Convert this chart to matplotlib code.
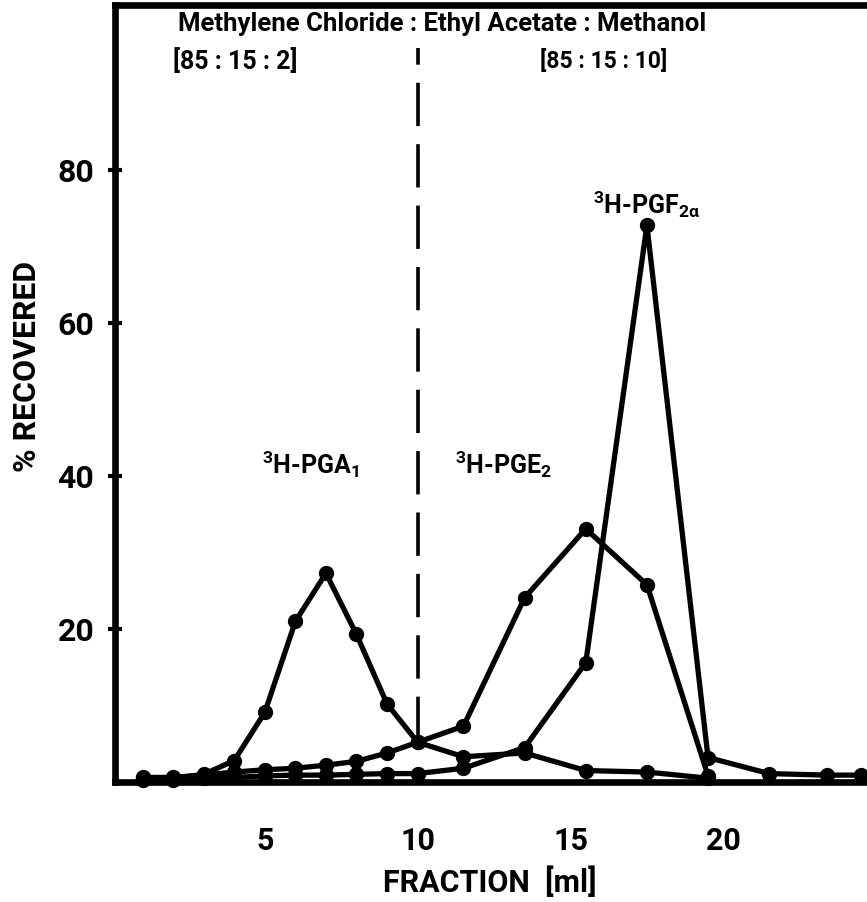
import matplotlib
matplotlib.use('Agg')
import matplotlib.pyplot as plt

FONT = ['Roboto', 'DejaVu Sans']
plt.rcParams['font.family'] = FONT
plt.rcParams['font.weight'] = 'bold'
plt.rcParams['axes.labelweight'] = 'bold'
plt.rcParams['mathtext.fontset'] = 'custom'
plt.rcParams['mathtext.rm'] = 'Roboto:bold'
plt.rcParams['mathtext.bf'] = 'Roboto:bold'
plt.rcParams['mathtext.default'] = 'rm'

# fraction (ml) vs % recovered
x_pga = [1, 2, 3, 4, 5, 6, 7, 8, 9, 10, 11.5, 13.5, 15.5, 17.5, 19.5]
y_pga = [0.5, 0.5, 1.0, 2.8, 9.1, 21.0, 27.3, 19.3, 10.2, 5.2, 3.3, 3.8, 1.5, 1.3, 0.5]

x_pge = [1, 2, 3, 4, 5, 6, 7, 8, 9, 10, 11.5, 13.5, 15.5, 17.5, 19.5]
y_pge = [0.6, 0.6, 0.9, 1.3, 1.6, 1.8, 2.2, 2.7, 3.8, 5.2, 7.3, 24.1, 33.1, 25.8, 0.8]

x_pgf = [1, 2, 3, 4, 5, 6, 7, 8, 9, 10, 11.5, 13.5, 15.5, 17.5, 19.5, 21.5, 23.4, 24.5]
y_pgf = [0.3, 0.3, 0.5, 0.6, 0.8, 0.9, 0.9, 1.0, 1.1, 1.1, 1.8, 4.5, 15.6, 72.8, 3.2, 1.1, 0.9, 0.9]

xticks = [5, 10, 15, 20]
yticks = [20, 40, 60, 80]

fig = plt.figure(figsize=(8.67, 9.02), dpi=100)
ax = fig.add_axes([115 / 867, 120 / 902, 752 / 867, 777 / 902])

for xs, ys in [(x_pga, y_pga), (x_pge, y_pge), (x_pgf, y_pgf)]:
    ax.plot(xs, ys, color='black', lw=3.8, marker='o', ms=10, clip_on=False)

# solvent change
ax.plot([10, 10], [5.5, 96.0], color='black', lw=2.6, ls=(0, (12, 5)))

ax.set_xlim(0.1, 24.7)
ax.set_ylim(0, 101.6)
ax.set_xticks(xticks)
ax.set_yticks(yticks)
ax.tick_params(axis='x', length=0, pad=32, labelsize=22)
ax.tick_params(axis='y', direction='inout', length=10, width=3, pad=10, labelsize=23)
for s in ['left', 'bottom', 'top']:
    ax.spines[s].set_linewidth(4.8)
ax.spines['right'].set_visible(False)

ax.set_xlabel('FRACTION  [ml]', fontsize=22)
ax.xaxis.set_label_coords(0.499, -0.108)
ax.set_ylabel('% RECOVERED', fontsize=23)
ax.yaxis.set_label_coords(-0.097, 0.535)

ax.text(10.8, 99.1, 'Methylene Chloride : Ethyl Acetate : Methanol', fontsize=18.5,
        ha='center', va='center')
ax.text(2.0, 94.3, '[85 : 15 : 2]', fontsize=18, ha='left', va='center')
ax.text(14.0, 94.3, '[85 : 15 : 10]', fontsize=16.5, ha='left', va='center')

ax.text(6.5, 41.5, r'$^{3}$H-PGA$_{1}$', fontsize=18, ha='center', va='center')
ax.text(12.8, 41.5, r'$^{3}$H-PGE$_{2}$', fontsize=18, ha='center', va='center')
ax.text(17.5, 75.5, r'$^{3}$H-PGF$_{2α}$', fontsize=18, ha='center', va='center')

fig.savefig('out.png', dpi=100)
